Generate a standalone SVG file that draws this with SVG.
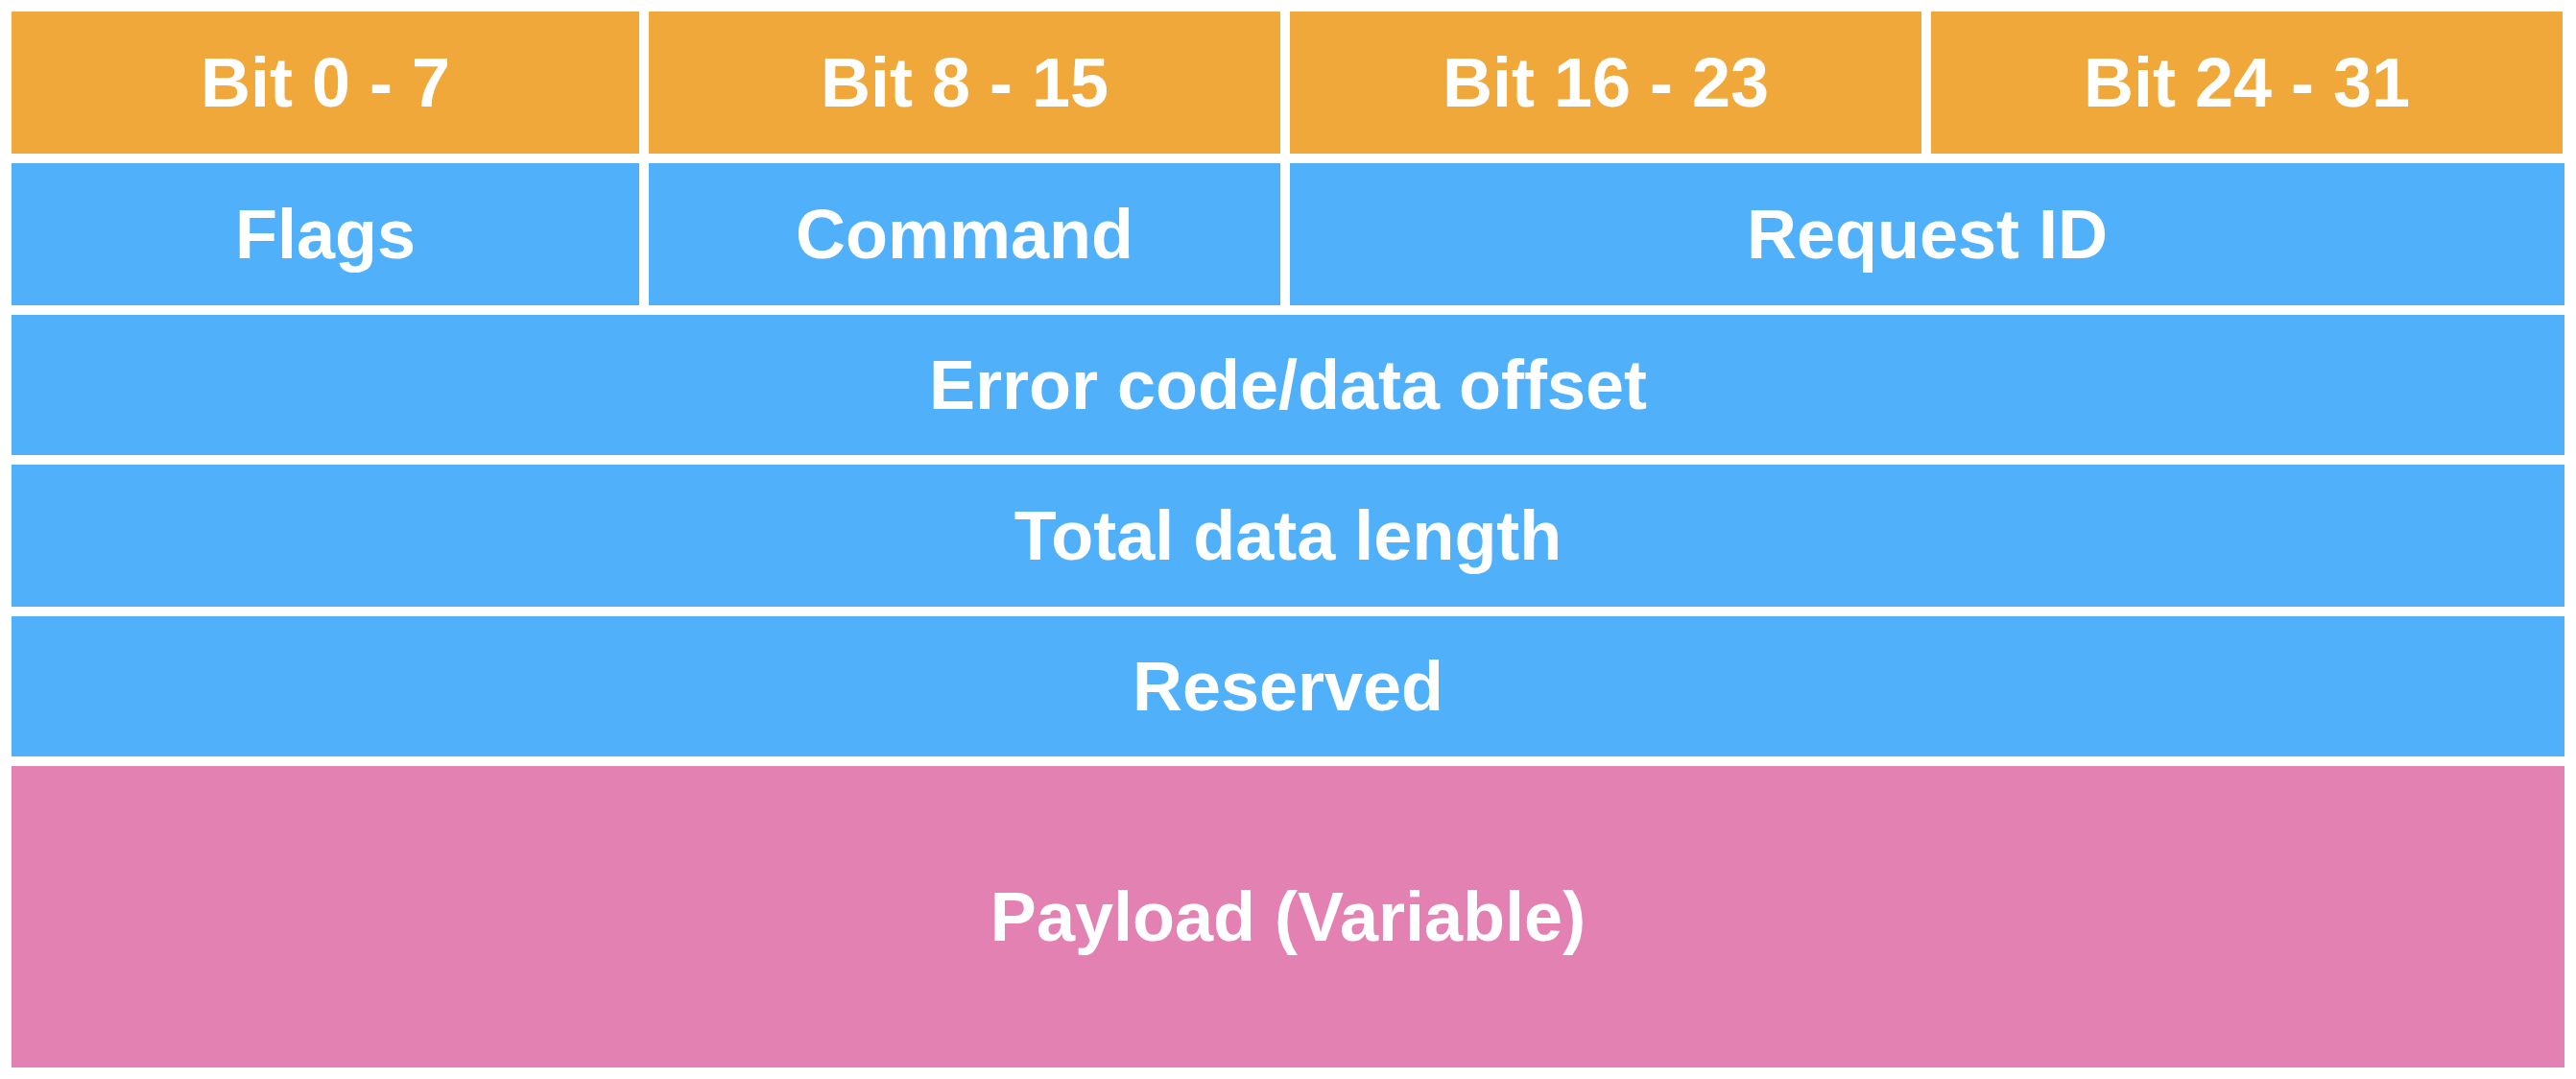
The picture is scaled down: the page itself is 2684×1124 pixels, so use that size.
<svg xmlns="http://www.w3.org/2000/svg" width="2684" height="1124" viewBox="0 0 2684 1124">
<style>
.o{fill:#F1A83B}
.b{fill:#50B0FA}
.p{fill:#E481B3}
text{font-family:"Liberation Sans",Arial,Helvetica,sans-serif;font-weight:bold;font-size:72px;fill:#FFFFFF;text-anchor:middle;dominant-baseline:central}
</style>
<rect width="2684" height="1124" fill="#FFFFFF"/>
<g id="bit0"><rect class="o" x="12" y="12" width="654" height="148"/><text x="339" y="86">Bit 0 - 7</text></g>
<g id="bit8"><rect class="o" x="676" y="12" width="658" height="148"/><text x="1005" y="86">Bit 8 - 15</text></g>
<g id="bit16"><rect class="o" x="1344" y="12" width="658" height="148"/><text x="1673" y="86">Bit 16 - 23</text></g>
<g id="bit24"><rect class="o" x="2012" y="12" width="658" height="148"/><text x="2341" y="86">Bit 24 - 31</text></g>
<g id="flags"><rect class="b" x="12" y="170" width="654" height="148"/><text x="339" y="244">Flags</text></g>
<g id="command"><rect class="b" x="676" y="170" width="658" height="148"/><text x="1005" y="244">Command</text></g>
<g id="requestid"><rect class="b" x="1344" y="170" width="1328" height="148"/><text x="2008" y="244">Request ID</text></g>
<g id="errorcode"><rect class="b" x="12" y="328" width="2660" height="146"/><text x="1342" y="401">Error code/data offset</text></g>
<g id="totallength"><rect class="b" x="12" y="484" width="2660" height="148"/><text x="1342" y="558">Total data length</text></g>
<g id="reserved"><rect class="b" x="12" y="642" width="2660" height="146"/><text x="1342" y="715">Reserved</text></g>
<g id="payload"><rect class="p" x="12" y="798" width="2660" height="314"/><text x="1342" y="955">Payload (Variable)</text></g>
<g id="connectors"></g>
</svg>
